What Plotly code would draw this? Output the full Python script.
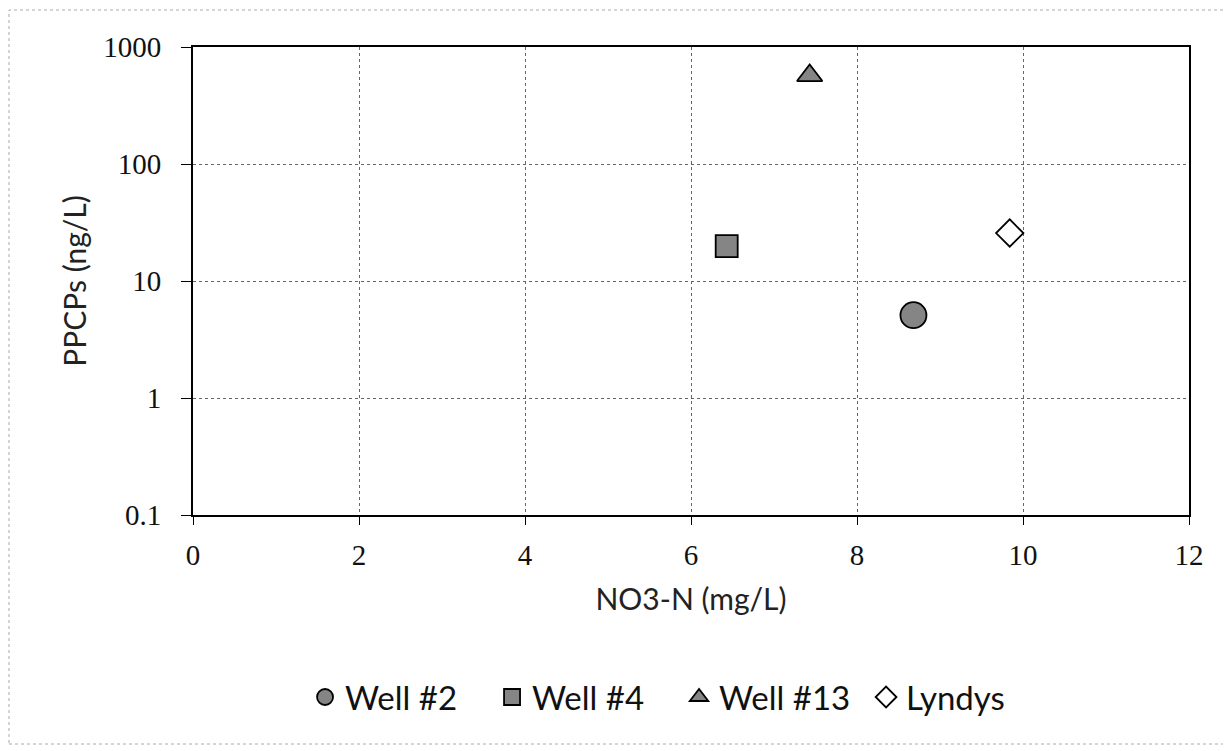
import plotly.graph_objects as go

series_names = ["Well #2", "Well #4", "Well #13", "Lyndys"]
no3_n = [8.68, 6.43, 7.43, 9.84]
ppcps = [5.1, 19.9, 570, 25.7]
symbols = ["circle", "square", "triangle-up", "diamond"]
fills = ["#858585", "#858585", "#858585", "#ffffff"]
sizes = [26, 22, 22, 21]

x_ticks = [0, 2, 4, 6, 8, 10, 12]
y_ticks = [0.1, 1, 10, 100, 1000]
y_tick_labels = ["0.1", "1", "10", "100", "1000"]

W, H = 1223, 743
L, T, PW, PH = 185, 39, 996, 468

fig = go.Figure()
for name, xv, yv, sym, fc, sz in zip(series_names, no3_n, ppcps, symbols, fills, sizes):
    fig.add_trace(go.Scatter(
        x=[xv], y=[yv], mode="markers", name=name,
        marker=dict(symbol=sym, color=fc, size=sz,
                    line=dict(color="#000000", width=1.8)),
    ))

tick_font = dict(family="Liberation Serif, Times New Roman, serif", size=29, color="#111111")
title_font = dict(family="Lato, Noto Sans, sans-serif", size=30, color="#222222")

fig.update_layout(
    width=W, height=H,
    paper_bgcolor="white", plot_bgcolor="white",
    margin=dict(l=L, r=W - L - PW, t=T, b=H - T - PH),
    showlegend=True,
    legend=dict(orientation="h", x=0.488, xanchor="center", y=-0.389, yanchor="middle",
                font=dict(family="Lato, Noto Sans, sans-serif", size=33, color="#111111"),
                itemsizing="trace", itemwidth=30, traceorder="normal",
                entrywidth=142),
    xaxis=dict(range=[0, 12], tickvals=x_ticks, ticks="outside", ticklen=8,
               tickcolor="#000000", showline=True, linecolor="#000000", linewidth=2,
               mirror=True, showgrid=True, gridcolor="#666666", griddash="dot",
               gridwidth=1, zeroline=False, tickfont=tick_font, ticklabelstandoff=5,
               title=dict(text="NO3-N (mg/L)", font=title_font, standoff=19)),
    yaxis=dict(type="log", range=[-1, 3], tickvals=y_ticks, ticktext=y_tick_labels,
               ticks="outside", ticklen=10, tickcolor="#000000", showline=True,
               linecolor="#000000", linewidth=2, mirror=True, showgrid=True,
               gridcolor="#666666", griddash="dot", gridwidth=1, zeroline=False,
               tickfont=tick_font, ticklabelstandoff=14,
               title=dict(text="PPCPs (ng/L)", font=title_font, standoff=8)),
)

fig.add_shape(type="rect", xref="paper", yref="paper",
              x0=(1 - L) / PW, x1=(1222 - L) / PW,
              y0=-(736 - (T + PH)) / PH, y1=1 + (T - 2) / PH,
              line=dict(color="#aaaaaa", width=1, dash="dot"), layer="below")

fig.write_html("out.html")
